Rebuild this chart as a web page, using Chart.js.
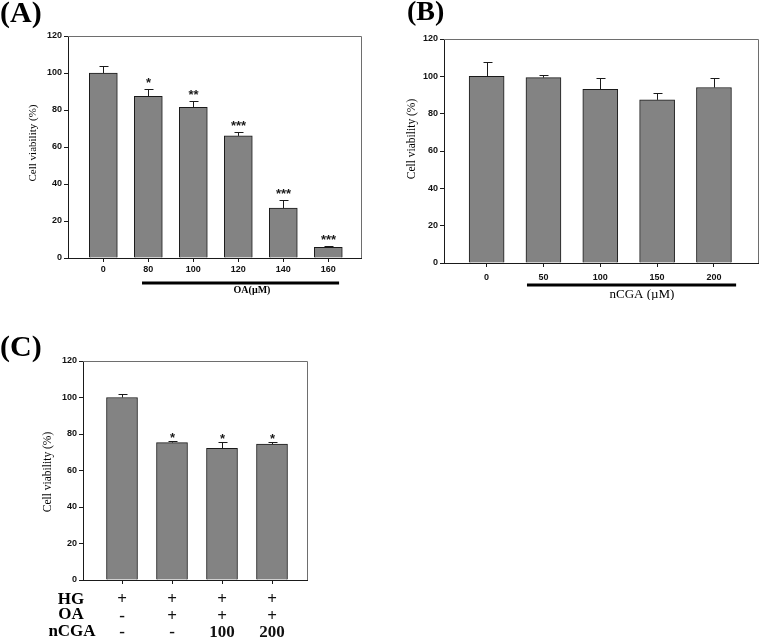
<!DOCTYPE html>
<html>
<head>
<meta charset="utf-8">
<script src="https://cdn.jsdelivr.net/npm/chart.js@4.4.0/dist/chart.umd.min.js"></script>
<style>
  html, body { margin: 0; padding: 0; background: #fff; }
  body { position: relative; width: 759px; height: 639px; overflow: hidden; }
  canvas { position: absolute; }
</style>
</head>
<body>
<canvas id="chartA" width="375" height="300" style="left:0;top:0"></canvas>
<canvas id="chartB" width="379" height="300" style="left:380px;top:0"></canvas>
<canvas id="chartC" width="380" height="339" style="left:0;top:300px"></canvas>
<script>
// Panel A - OA dose
const aDoses = ['0', '80', '100', '120', '140', '160'];
const aViability = [100, 87.4, 81.5, 66, 27, 5.8];
const aError = [4, 4.2, 3.1, 2, 4.5, 0.9];
const aStars = ['', '*', '**', '***', '***', '***'];

// Panel B - nCGA dose
const bDoses = ['0', '50', '100', '150', '200'];
const bViability = [100, 99.3, 93, 87.4, 94];
const bError = [7.9, 1.2, 6.3, 3.9, 5.1];

// Panel C - HG / OA / nCGA combinations
const cRows = ['HG', 'OA', 'nCGA'];
const cLabels = [['+', '-', '-'], ['+', '+', '-'], ['+', '+', '100'], ['+', '+', '200']];
const cViability = [100, 75.3, 72.1, 74.5];
const cError = [2.1, 0.7, 3.3, 1.3];
const cStars = ['', '*', '*', '*'];

const yTicks = [0, 20, 40, 60, 80, 100, 120];

const SERIF = "'Liberation Serif', 'Times New Roman', serif";
const SANS = "'Liberation Sans', Arial, sans-serif";
const BAR_FILL = '#838383';
const INK = '#1a1a1a';

function makePanel(id, p) {
    const idx = p.values.map((v, i) => i);

    const decor = {
        id: 'decor',
        beforeDatasetsDraw(chart) {
            const ctx = chart.ctx;
            const a = chart.chartArea;
            // top and right frame
            ctx.save();
            ctx.strokeStyle = '#6e6e6e';
            ctx.lineWidth = 1;
            ctx.beginPath();
            ctx.moveTo(Math.round(a.left), Math.round(a.top) + 0.5);
            ctx.lineTo(Math.round(a.right) + 0.5, Math.round(a.top) + 0.5);
            ctx.lineTo(Math.round(a.right) + 0.5, Math.round(a.bottom));
            ctx.stroke();
            ctx.restore();
        },
        afterDatasetsDraw(chart) {
            const ctx = chart.ctx;
            const x = chart.scales.x, y = chart.scales.y;
            ctx.save();

            // upper error bars + significance marks
            ctx.strokeStyle = INK;
            ctx.lineWidth = 1;
            p.values.forEach((v, i) => {
                const cx = Math.round(x.getPixelForValue(i)) + 0.5;
                const top = y.getPixelForValue(v);
                const cap = Math.round(y.getPixelForValue(v + p.errors[i])) + 0.5;
                ctx.beginPath();
                ctx.moveTo(cx, top);
                ctx.lineTo(cx, cap);
                ctx.moveTo(cx - 4, cap);
                ctx.lineTo(cx + 5, cap);
                ctx.stroke();
                if (p.stars && p.stars[i]) {
                    ctx.fillStyle = INK;
                    ctx.font = 'bold 13px ' + SANS;
                    ctx.textAlign = 'center';
                    ctx.textBaseline = 'alphabetic';
                    ctx.fillText(p.stars[i], cx, cap - p.starGap);
                }
            });

            // dose bracket under the axis
            if (p.bracket) {
                ctx.strokeStyle = '#000';
                ctx.lineWidth = 3;
                ctx.beginPath();
                ctx.moveTo(x.getPixelForValue(p.bracket.from), p.bracket.y);
                ctx.lineTo(x.getPixelForValue(p.bracket.to), p.bracket.y);
                ctx.stroke();
            }

            // free text: panel letter, axis title, notes
            ctx.fillStyle = '#000';
            p.texts.forEach(t => {
                ctx.save();
                ctx.font = t.font;
                ctx.textAlign = t.align || 'center';
                ctx.textBaseline = 'middle';
                ctx.translate(t.x, t.y);
                if (t.rotate) ctx.rotate(-Math.PI / 2);
                ctx.fillText(t.text, 0, 0);
                ctx.restore();
            });
            ctx.restore();
        }
    };

    return new Chart(document.getElementById(id), {
        type: 'bar',
        data: {
            datasets: [{
                data: p.values.map((v, i) => ({ x: i, y: v })),
                backgroundColor: BAR_FILL,
                borderColor: INK,
                borderWidth: 1,
                barThickness: p.barWidth
            }]
        },
        options: {
            responsive: false,
            animation: false,
            layout: { padding: p.padding },
            plugins: {
                legend: { display: false },
                tooltip: { enabled: false }
            },
            scales: {
                x: {
                    type: 'linear',
                    min: p.xMin,
                    max: p.xMax,
                    offset: false,
                    afterBuildTicks: scale => { scale.ticks = idx.map(v => ({ value: v })); },
                    afterFit: scale => { scale.height = p.xHeight; },
                    grid: { offset: false, drawOnChartArea: false, tickLength: 4, color: INK },
                    border: { color: INK },
                    ticks: {
                        autoSkip: false,
                        maxRotation: 0,
                        padding: p.xPad,
                        color: '#111',
                        font: p.xFont,
                        callback: value => p.labels[value]
                    }
                },
                y: {
                    min: 0,
                    max: 120,
                    afterBuildTicks: scale => { scale.ticks = yTicks.map(v => ({ value: v })); },
                    afterFit: scale => { scale.width = p.yWidth; },
                    grid: { drawOnChartArea: false, tickLength: 4, color: INK },
                    border: { color: INK },
                    ticks: {
                        padding: 2,
                        color: '#111',
                        font: { family: SANS, size: 9, weight: 'bold' }
                    }
                }
            }
        },
        plugins: [decor]
    });
}

makePanel('chartA', {
    values: aViability, errors: aError, stars: aStars, starGap: 3,
    labels: aDoses,
    xMin: -0.785, xMax: 5.727, barWidth: 28,
    padding: { top: 36, right: 14, left: 0, bottom: 0 },
    yWidth: 68, xHeight: 42, xPad: 2,
    xFont: { family: SANS, size: 9, weight: 'bold' },
    bracket: { from: 0.86, to: 5.24, y: 283 },
    texts: [
        { text: '(A)', x: 0, y: 14, align: 'left', font: 'bold 30px ' + SERIF },
        { text: 'Cell viability (%)', x: 33, y: 143, rotate: true, font: '11px ' + SERIF },
        { text: 'OA(\u00b5M)', x: 252, y: 290, font: 'bold 10px ' + SERIF }
    ]
});

makePanel('chartB', {
    values: bViability, errors: bError,
    labels: bDoses,
    xMin: -0.75, xMax: 4.775, barWidth: 35,
    padding: { top: 39, right: 1, left: 0, bottom: 0 },
    yWidth: 64, xHeight: 37, xPad: 5,
    xFont: { family: SANS, size: 9, weight: 'bold' },
    bracket: { from: 0.71, to: 4.39, y: 285 },
    texts: [
        { text: '(B)', x: 27, y: 13, align: 'left', font: 'bold 28px ' + SERIF },
        { text: 'Cell viability (%)', x: 32, y: 139, rotate: true, font: '11.5px ' + SERIF },
        { text: 'nCGA (\u00b5M)', x: 262, y: 295, font: '13px ' + SERIF }
    ]
});

makePanel('chartC', {
    values: cViability, errors: cError, stars: cStars, starGap: 0,
    labels: cLabels,
    xMin: -0.78, xMax: 3.70, barWidth: 31,
    padding: { top: 61, right: 73, left: 0, bottom: 0 },
    yWidth: 83, xHeight: 59, xPad: 8,
    xFont: { family: SERIF, size: 17, weight: 'bold', lineHeight: 0.95 },
    texts: [
        { text: '(C)', x: 0, y: 48, align: 'left', font: 'bold 30px ' + SERIF },
        { text: 'Cell viability (%)', x: 48, y: 172, rotate: true, font: '11.5px ' + SERIF },
        { text: cRows[0], x: 71, y: 300, font: 'bold 17px ' + SERIF },
        { text: cRows[1], x: 71, y: 315, font: 'bold 17px ' + SERIF },
        { text: cRows[2], x: 72, y: 332, font: 'bold 17px ' + SERIF }
    ]
});
</script>
</body>
</html>
